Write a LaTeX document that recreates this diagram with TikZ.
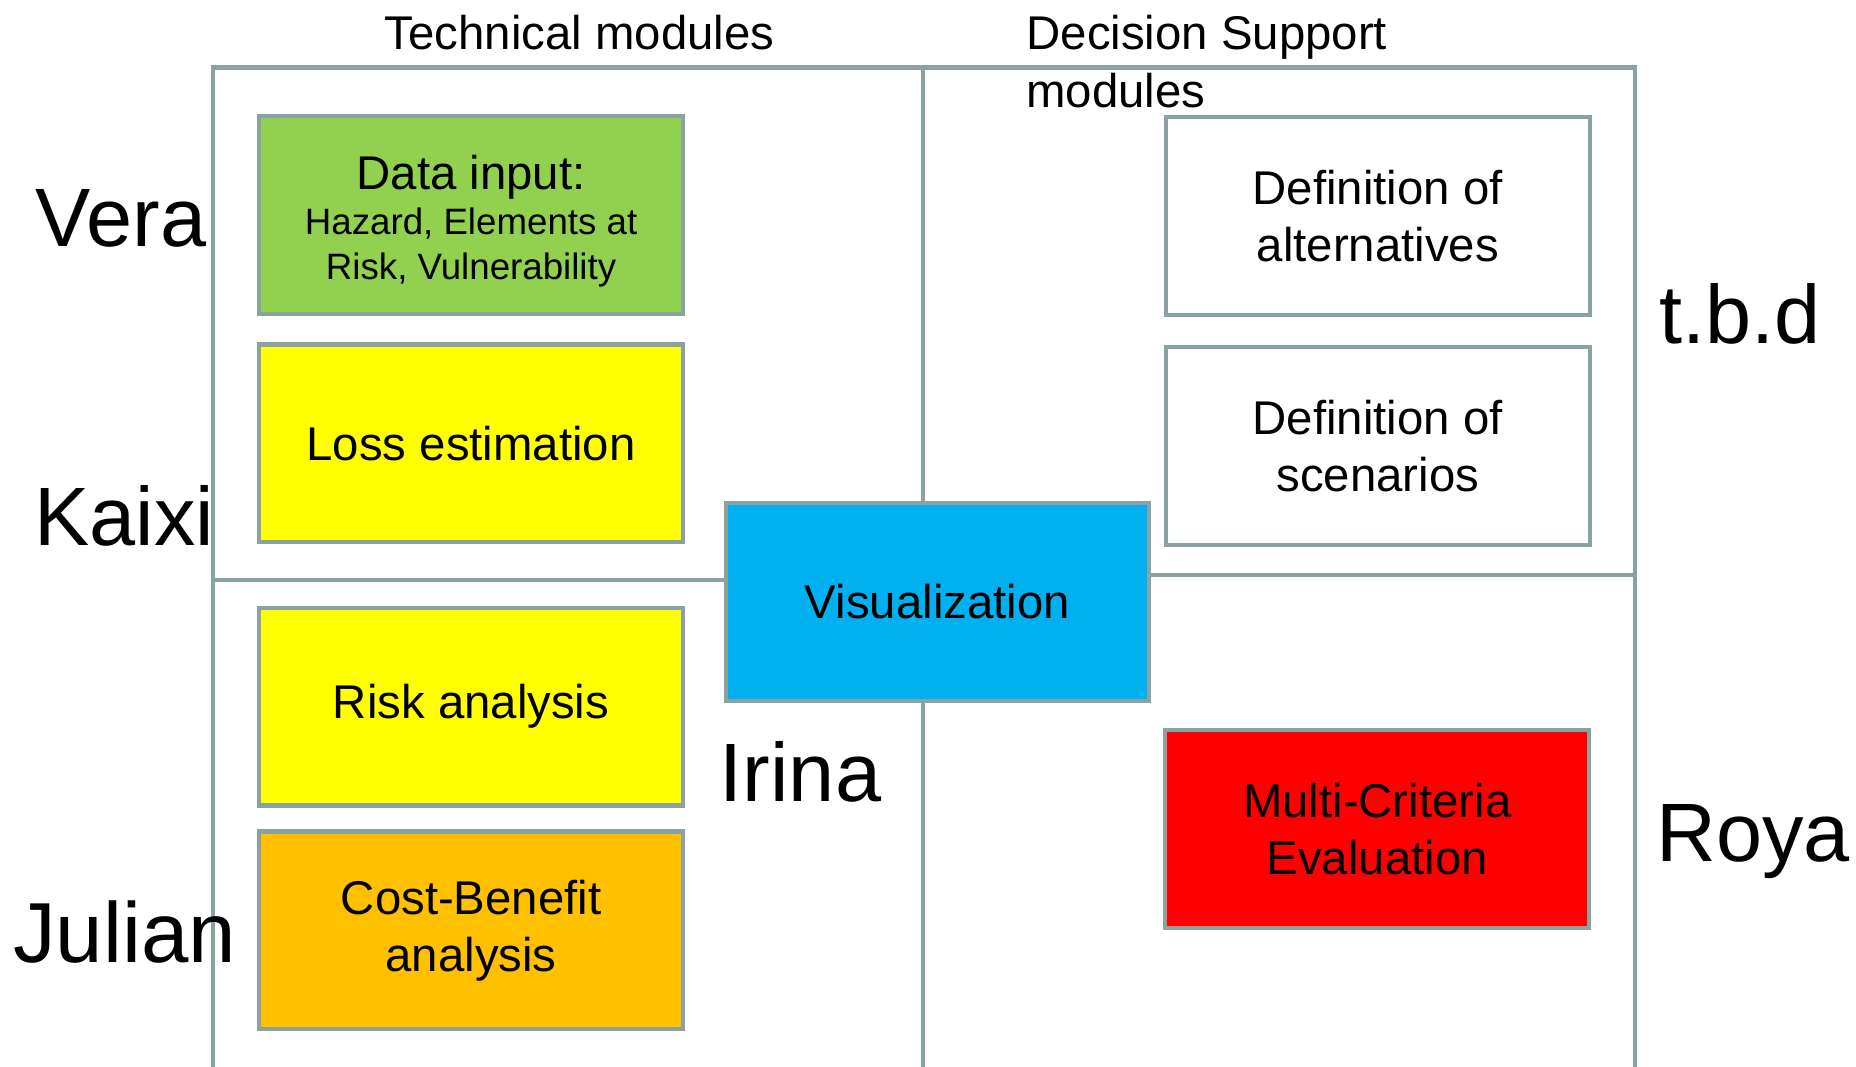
\documentclass[tikz,border=0pt]{standalone}
\usepackage{fontspec}
\setmainfont{Liberation Sans}
\definecolor{frameline}{RGB}{139,162,165}
\definecolor{datagreen}{RGB}{146,208,80}
\definecolor{lossyellow}{RGB}{255,255,0}
\definecolor{cbaorange}{RGB}{255,192,0}
\definecolor{visblue}{RGB}{0,176,240}
\definecolor{mcered}{RGB}{255,0,0}
\begin{document}
\begin{tikzpicture}[x=1pt,y=-1pt,
  module/.style={draw=frameline, line width=3.5pt, minimum width=358pt,
    minimum height=167pt, inner sep=0pt, align=center,
    font=\fontsize{40}{48}\selectfont},
  person/.style={anchor=base west, inner sep=0pt,
    font=\fontsize{70}{84}\selectfont},
  heading/.style={anchor=base west, inner sep=0pt, align=left,
    font=\fontsize{40}{48.5}\selectfont},
  divider/.style={draw=frameline, line width=3.5pt}]
\useasboundingbox (0,0) rectangle (1568,901);

% frame and quadrant dividers
\begin{scope}
  \clip (0,0) rectangle (1568,901);
  \coordinate (tl) at (180,57);
  \coordinate (tr) at (1381,57);
  \coordinate (tm) at (780,57);
  \draw[divider] (180,920) -- (tl) -- (tr) -- (1381,920);
  \draw[divider] (tm) -- (780,920);
  \draw[divider] (180,490) -- (780,490);
  \draw[divider] (780,486) -- (1381,486);
\end{scope}

% column headings (base anchor sits on the last line)
\node[heading] (htech) at (325,42) {Technical modules};
\node[heading] (hdss) at (867,90.5) {Decision Support\\modules};

% technical modules
\node[module, fill=datagreen] (data) at (398,181.5)
  {\rule{0pt}{39pt}Data input:\\[-10pt]\fontsize{31}{38}\selectfont Hazard, Elements at\\[-10pt]\fontsize{31}{38}\selectfont Risk, Vulnerability};
\node[module, fill=lossyellow] (loss) at (398,374.5) {Loss estimation};
\node[module, fill=lossyellow] (risk) at (398,597) {Risk analysis};
\node[module, fill=cbaorange] (cba) at (398,786) {Cost-Benefit\\analysis};

% shared module
\node[module, fill=visblue] (vis) at (792,508.5) {Visualization};

% decision support modules
\node[module, fill=white] (alt) at (1164,182.5) {Definition of\\alternatives};
\node[module, fill=white] (scen) at (1164,377) {Definition of\\scenarios};
\node[module, fill=mcered] (mce) at (1163.5,700.5) {Multi-Criteria\\Evaluation};

% responsible persons
\node[person] (vera) at (30,208) {Vera};
\node[person] (kaixi) at (29,461) {Kaixi};
\node[person] (julian) at (11,813) {\fontsize{72}{84}\selectfont Julian};
\node[person] (irina) at (608,677) {Irina};
\node[person] (tbd) at (1402,290) {t.b.d};
\node[person] (roya) at (1399,728) {Roya};
\end{tikzpicture}
\end{document}
